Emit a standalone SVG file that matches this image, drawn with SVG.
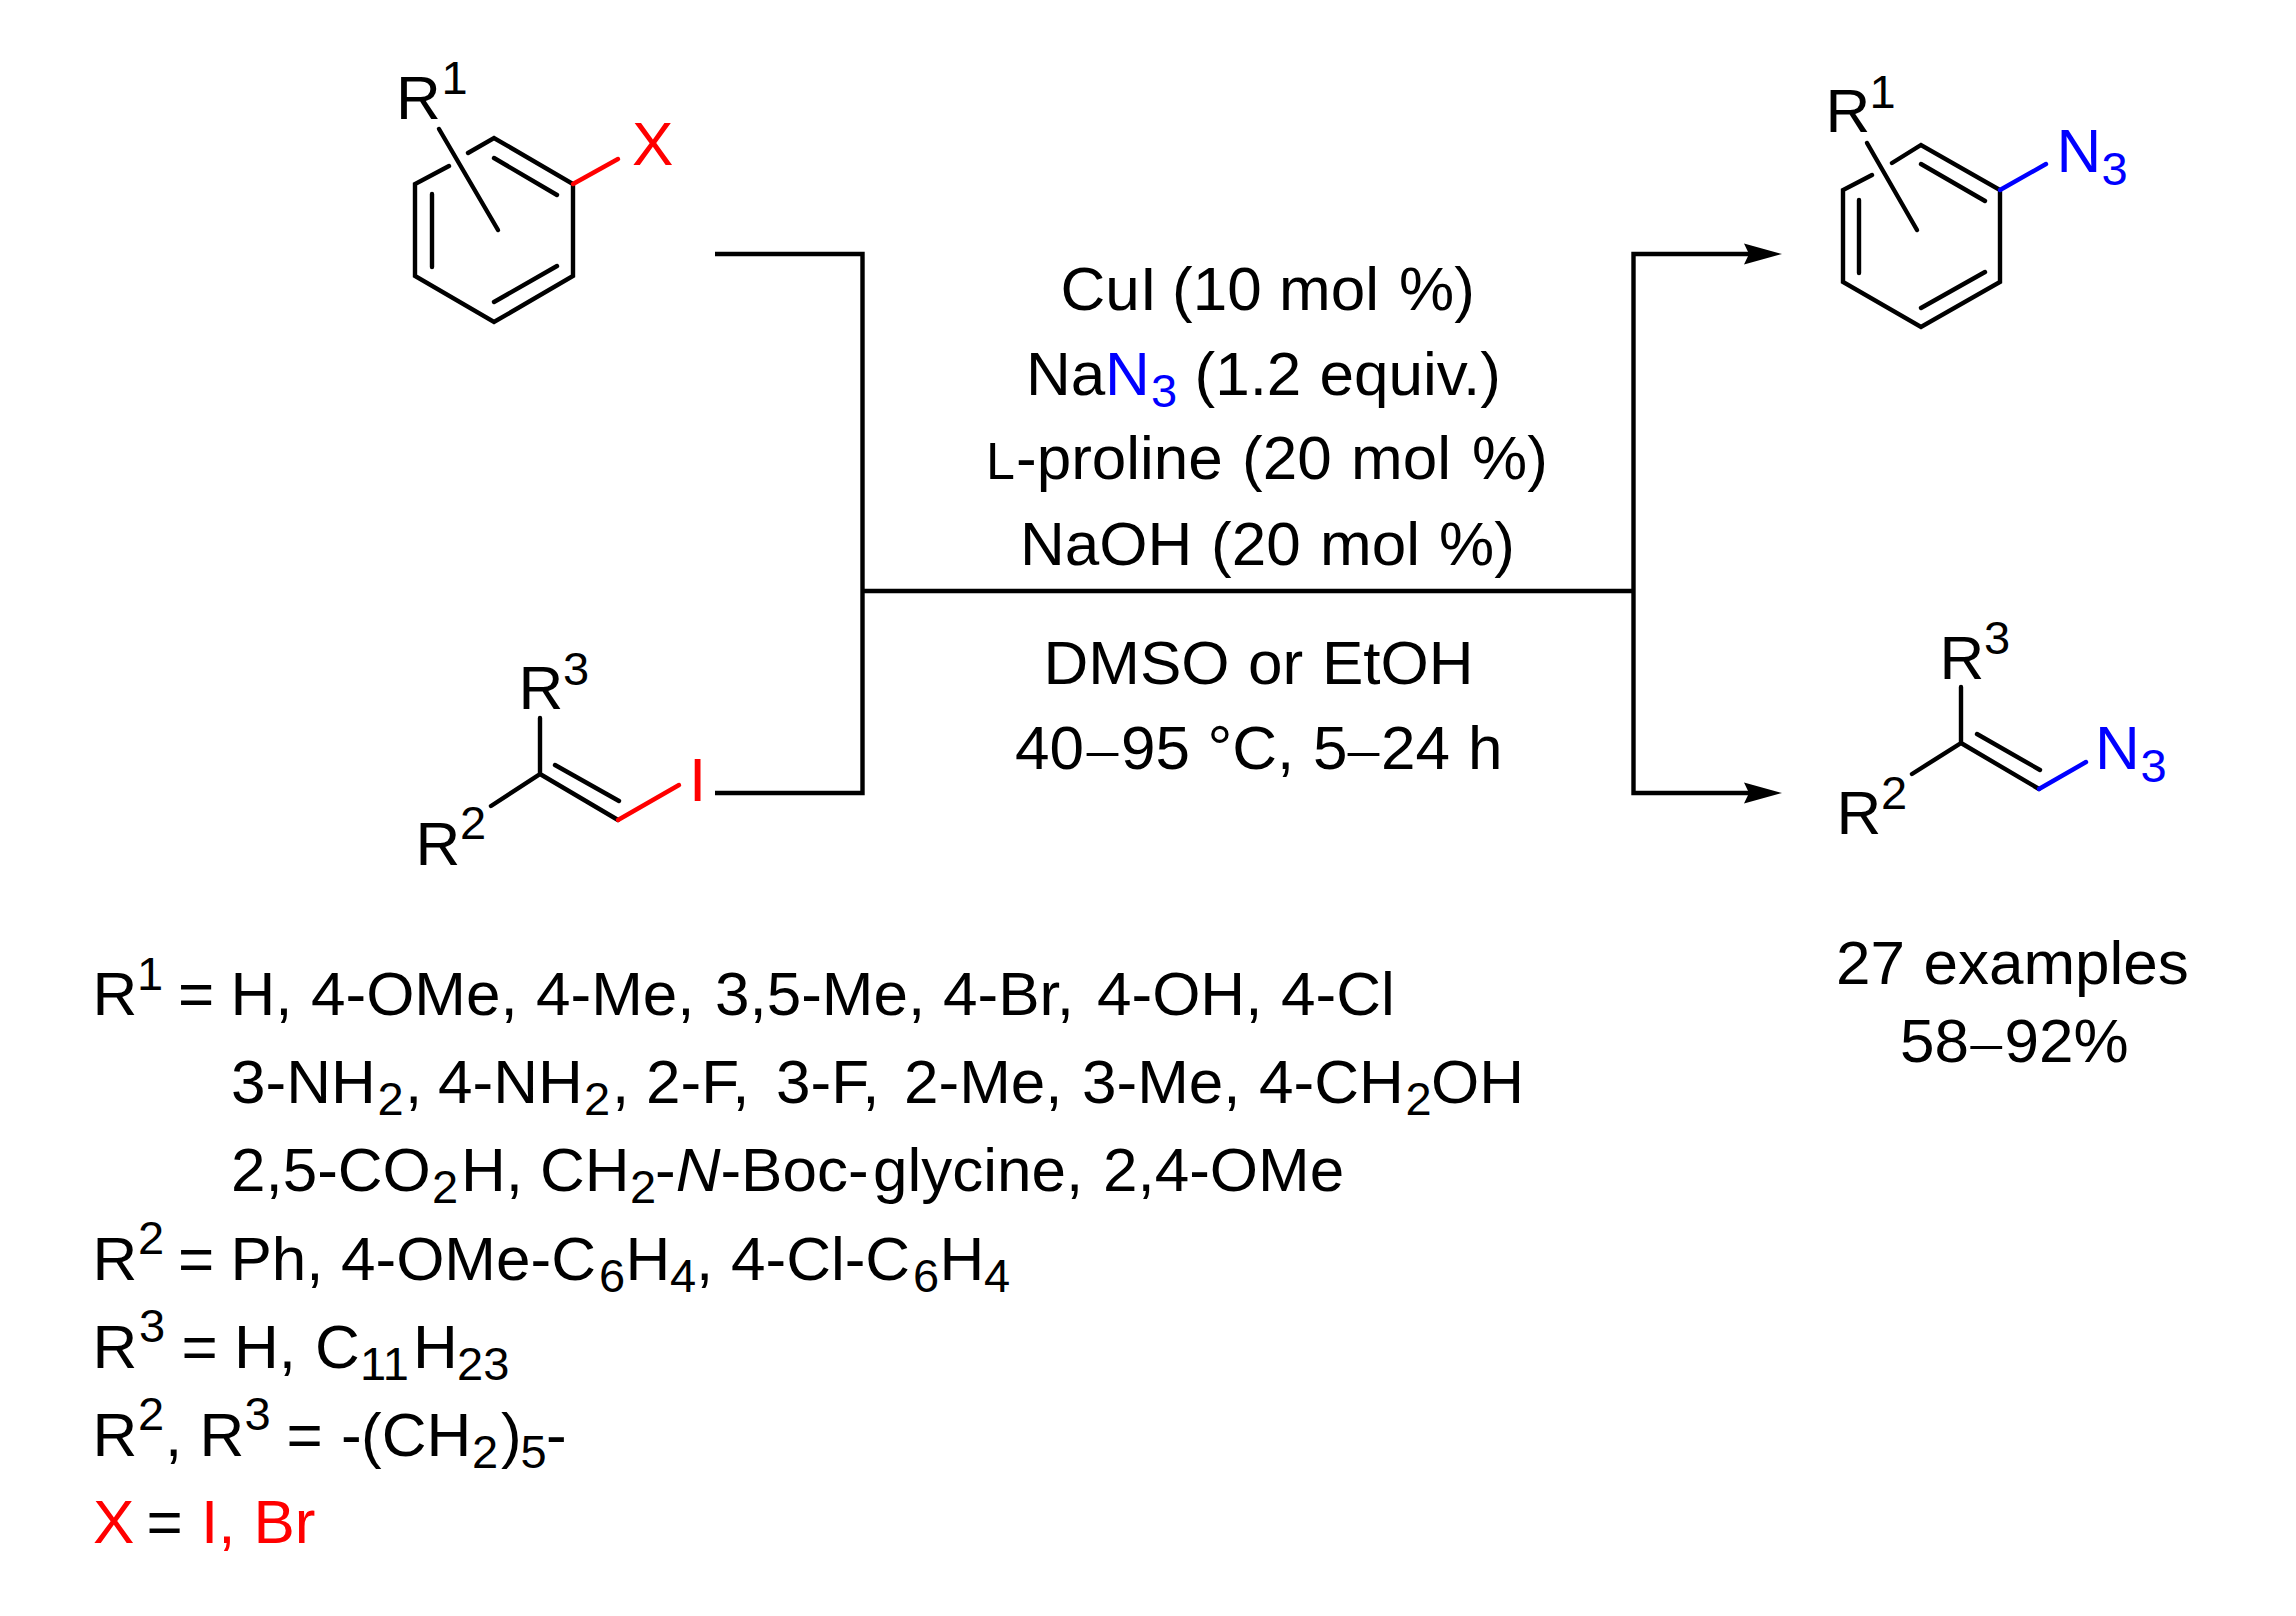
<svg xmlns="http://www.w3.org/2000/svg" width="2296" height="1616" viewBox="0 0 2296 1616">
<style>
text{font-family:"Liberation Sans",Arial,sans-serif;font-size:62px;fill:#000}
.s{font-size:47px}
.r{fill:#f00}
.b{fill:#00f}
.d{font-family:"Liberation Serif","Times New Roman",serif}
.i{font-style:italic}
.l{font-size:52px}
.bond{fill:none;stroke:#000;stroke-width:4.4;stroke-linecap:round;stroke-linejoin:miter}
.bred{stroke:#f00}
.bblue{stroke:#00f}
.conn{fill:none;stroke:#000;stroke-width:4.4}
</style>
<defs>
<marker id="arrow" markerUnits="userSpaceOnUse" markerWidth="38" markerHeight="22" viewBox="0 0 38 22" refX="8" refY="11" orient="auto"><path d="M38 11L0 .5 5 11 0 21.5Z" fill="#000"/></marker>
</defs>
<rect width="2296" height="1616" fill="#fff"/>

<g id="connectors">
<path class="conn" d="M715 254H862.500V793H715"/>
<path class="conn" d="M862 591H1634"/>
<path class="conn" d="M1633.500 591V254H1752" marker-end="url(#arrow)"/>
<path class="conn" d="M1633.500 591V793H1752" marker-end="url(#arrow)"/>
</g>

<g id="aryl-halide">
<path class="bond" d="M449 166L415 184V276L494 322L573 276V184L494 138L468 153"/>
<path class="bond" d="M494 158L557 195M557 266L494 302M432 267V194"/>
<path class="bond" d="M439 129L498 230"/>
<path class="bond bred" d="M573 184L618 159"/>
<text x="396" y="119">R<tspan class="s" x="441.500" y="94">1</tspan></text>
<text class="r" x="632" y="165">X</text>
</g>

<g id="vinyl-iodide">
<path class="bond" d="M540 718V774L491 806M540 774L618 820M555 765L619 801"/>
<path class="bond bred" d="M618 820L679 785"/>
<text x="518.500" y="709">R<tspan class="s" x="563" y="685">3</tspan></text>
<text x="415.500" y="865">R<tspan class="s" x="460" y="839">2</tspan></text>
<text class="r" x="689" y="801">I</text>
</g>

<g id="conditions">
<text x="1060.500" y="310">CuI <tspan x="1172">(10 </tspan><tspan x="1279">mol </tspan><tspan x="1399">%)</tspan></text>
<text x="1026" y="395">Na<tspan class="b" x="1105">N</tspan><tspan class="s b" x="1151" y="407">3</tspan><tspan x="1194.500" y="395">(1.2 </tspan><tspan x="1319.500">equiv.)</tspan></text>
<text x="986" y="479"><tspan class="l">L</tspan><tspan x="1016">-proline </tspan><tspan x="1242">(20 </tspan><tspan x="1351">mol </tspan><tspan x="1472">%)</tspan></text>
<text x="1020" y="565">NaOH <tspan x="1211">(20 </tspan><tspan x="1320">mol </tspan><tspan x="1439">%)</tspan></text>
<text x="1043.500" y="684">DMSO <tspan x="1248">or </tspan><tspan x="1322">EtOH</tspan></text>
<text x="1015" y="769">40<tspan class="d" x="1087">–</tspan><tspan x="1121">95 </tspan><tspan x="1207.500">°C, </tspan><tspan x="1313">5</tspan><tspan class="d" x="1348">–</tspan><tspan x="1381">24 </tspan><tspan x="1468">h</tspan></text>
</g>

<g id="aryl-azide">
<path class="bond" d="M1872 175L1843 190V282L1921 327L2000 282V190L1921 145L1892 163"/>
<path class="bond" d="M1921 164L1985 201M1985 272L1921 308M1859 273V200"/>
<path class="bond" d="M1867 143L1917 230"/>
<path class="bond bblue" d="M2000 190L2046 164"/>
<text x="1825.500" y="132">R<tspan class="s" x="1869.500" y="108">1</tspan></text>
<text class="b" x="2056.500" y="172">N<tspan class="s" x="2101.500" y="185">3</tspan></text>
</g>

<g id="vinyl-azide">
<path class="bond" d="M1961 687V743L1912 774M1961 743L2039 789M1977 734L2040 770"/>
<path class="bond bblue" d="M2039 789L2086 762"/>
<text x="1939.500" y="679">R<tspan class="s" x="1984" y="654">3</tspan></text>
<text x="1836.500" y="834">R<tspan class="s" x="1881" y="809">2</tspan></text>
<text class="b" x="2095" y="769">N<tspan class="s" x="2140.500" y="782">3</tspan></text>
</g>

<g id="yield">
<text x="1836" y="984">27 <tspan x="1923.500">examples</tspan></text>
<text x="1900" y="1062">58<tspan class="d" x="1970.700">–</tspan><tspan x="2004.500">92%</tspan></text>
</g>

<g id="substituents">
<text x="92.500" y="1015">R<tspan class="s" x="137" y="990">1</tspan><tspan x="178" y="1015">=</tspan><tspan x="230.500">H, </tspan><tspan x="311">4-OMe, </tspan><tspan x="536">4-Me, </tspan><tspan x="715">3,5-Me, </tspan><tspan x="943">4-Br, </tspan><tspan x="1097">4-OH, </tspan><tspan x="1281">4-Cl</tspan></text>
<text x="231" y="1103">3-NH<tspan class="s" x="377.500" y="1115">2</tspan><tspan x="405" y="1103">,</tspan><tspan x="438">4-NH</tspan><tspan class="s" x="584" y="1115">2</tspan><tspan x="612" y="1103">,</tspan><tspan x="646">2-F, </tspan><tspan x="776">3-F, </tspan><tspan x="904">2-Me, </tspan><tspan x="1082">3-Me, </tspan><tspan x="1259">4-CH</tspan><tspan class="s" x="1405.500" y="1115">2</tspan><tspan x="1431" y="1103">OH</tspan></text>
<text x="231" y="1191">2,5-CO<tspan class="s" x="432" y="1203">2</tspan><tspan x="461" y="1191">H,</tspan><tspan x="540">CH</tspan><tspan class="s" x="630" y="1203">2</tspan><tspan x="655" y="1191">-</tspan><tspan class="i">N</tspan>-Boc-<tspan x="873">glycine,</tspan><tspan x="1103">2,4-OMe</tspan></text>
<text x="92.500" y="1280">R<tspan class="s" x="138" y="1254">2</tspan><tspan x="178" y="1280">=</tspan><tspan x="230.500">Ph, </tspan><tspan x="341">4-OMe-C</tspan><tspan class="s" x="599" y="1292">6</tspan><tspan x="625.500" y="1280">H</tspan><tspan class="s" x="670" y="1292">4</tspan><tspan x="696" y="1280">,</tspan><tspan x="731">4-Cl-C</tspan><tspan class="s" x="913" y="1292">6</tspan><tspan x="939.500" y="1280">H</tspan><tspan class="s" x="984" y="1292">4</tspan></text>
<text x="92.500" y="1368">R<tspan class="s" x="139" y="1342">3</tspan><tspan x="181.500" y="1368">=</tspan><tspan x="234">H,</tspan><tspan x="315">C</tspan><tspan class="s" x="360" y="1380">11</tspan><tspan x="413" y="1368">H</tspan><tspan class="s" x="457" y="1380">23</tspan></text>
<text x="92.500" y="1456">R<tspan class="s" x="138" y="1430">2</tspan><tspan x="165" y="1456">,</tspan><tspan x="199.500">R</tspan><tspan class="s" x="244.500" y="1430">3</tspan><tspan x="286.500" y="1456">=</tspan><tspan x="341">-</tspan><tspan x="361">(CH</tspan><tspan class="s" x="472" y="1468">2</tspan><tspan x="501" y="1456">)</tspan><tspan class="s" x="520.500" y="1468">5</tspan><tspan x="546" y="1456">-</tspan></text>
<text x="93" y="1543"><tspan class="r">X</tspan><tspan x="146.500">=</tspan><tspan class="r" x="201">I,</tspan><tspan class="r" x="253.500">Br</tspan></text>
</g>
</svg>
